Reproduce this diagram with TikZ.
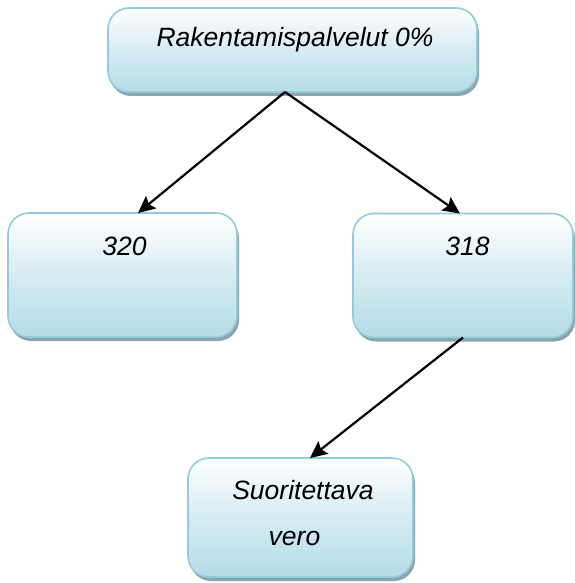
\documentclass[tikz,border=0pt]{standalone}
\usepackage{fontspec}
\setmainfont{Liberation Sans}
\usetikzlibrary{shadows,arrows.meta,calc}
\definecolor{boxblue}{RGB}{180,220,231}
\definecolor{boxedge}{RGB}{146,204,220}
\definecolor{shadowc}{RGB}{140,165,172}
\tikzset{
  box/.style={draw=boxedge, line width=1.6pt, rounded corners=21pt,
    top color=white, bottom color=boxblue, middle color=white!45!boxblue,
    drop shadow={shadow xshift=2pt, shadow yshift=-4pt, fill=shadowc, opacity=1},
    inner sep=0pt, outer sep=0pt},
  lbl/.style={anchor=base, inner sep=0pt, font=\fontsize{26.5}{30}\selectfont\itshape},
  arr/.style={line width=2.2pt, -{Stealth[length=17pt,width=16pt,inset=3pt]}}
}
\begin{document}
\begin{tikzpicture}[x=1pt,y=1pt]
\useasboundingbox (0,0) rectangle (574,-583);
\node[box, minimum width=369pt, minimum height=84pt] (top) at (292.5,-50) {};
\node[box, minimum width=229pt, minimum height=124pt] (left) at (122.5,-275) {};
\node[box, minimum width=220pt, minimum height=124pt] (right) at (463,-275.5) {};
\node[box, minimum width=225pt, minimum height=119pt] (bot) at (300.5,-517.5) {};
\node[lbl] (t1) at (295,-47) {Rakentamispalvelut 0\%};
\node[lbl] (t2) at (124.5,-255) {320};
\node[lbl] (t3) at (467.5,-255) {318};
\node[lbl] (t4) at (303,-499) {Suoritettava};
\node[lbl] (t5) at (294.5,-545) {vero};
\coordinate (split) at ($(top.south)+(-7.5,0)$);
\draw[arr] (split) -- ($(left.north)+(15.5,0)$);
\draw[arr] (split) -- ($(right.north)+(-3,0)$);
\draw[arr] (right.south) -- ($(bot.north)+(9.5,0)$);
\end{tikzpicture}
\end{document}
